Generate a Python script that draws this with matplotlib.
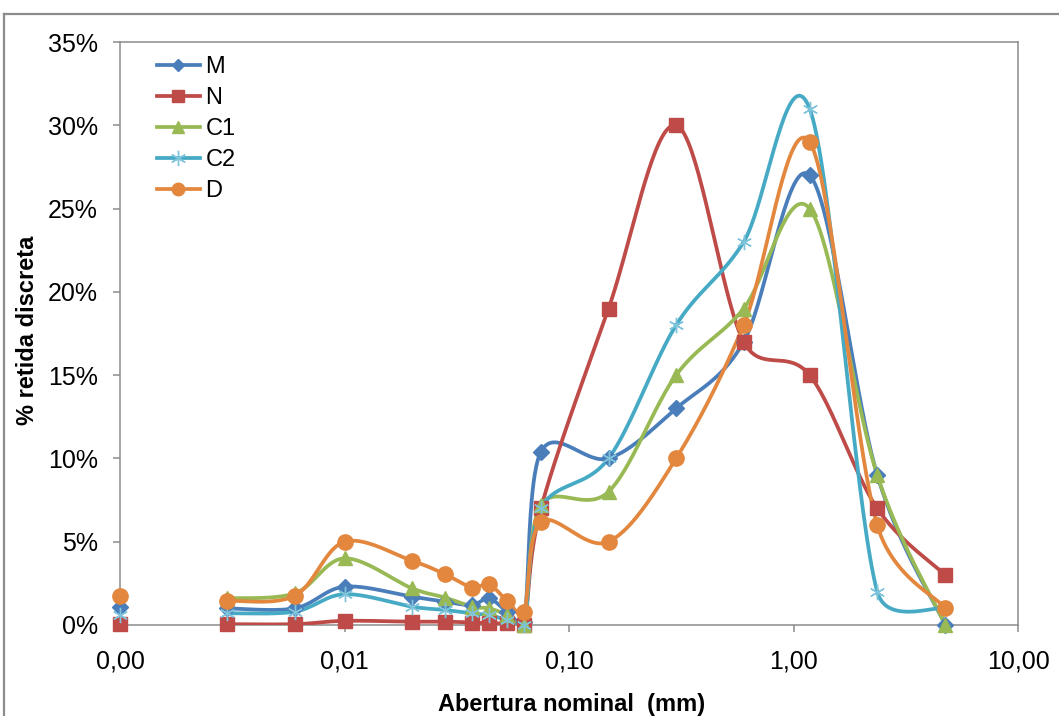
import numpy as np
import matplotlib
matplotlib.use('Agg')
import matplotlib.pyplot as plt
from matplotlib.lines import Line2D
from matplotlib.ticker import FixedLocator, FuncFormatter, NullLocator

plt.rcParams['font.family'] = ['Liberation Sans', 'DejaVu Sans']

# ─────────────────────────────────────────────────────────────
# DATA  (abertura em mm, % retida discreta)
# ─────────────────────────────────────────────────────────────
nan = np.nan
aberturas = [0.001, 0.003, 0.006, 0.01, 0.02, 0.028, 0.037, 0.044, 0.053, 0.063,
             0.075, 0.15, 0.3, 0.6, 1.18, 2.36, 4.75]

serie_M  = [1.1, 1.0, 1.0, 2.3, 1.7, 1.4, 1.2, 1.6, 0.8, 0.2, 10.4, 10.0, 13.0, 17.0, 27.0, 9.0, 0.0]
serie_N  = [0.05, 0.05, 0.05, 0.25, 0.2, 0.2, 0.15, 0.1, 0.1, 0.0, 7.0, 19.0, 30.0, 17.0, 15.0, 7.0, 3.0]
serie_C1 = [nan, 1.6, 1.9, 4.0, 2.2, 1.65, 1.1, 1.0, 0.6, 0.0, 7.2, 8.0, 15.0, 19.0, 25.0, 9.0, 0.0]
serie_C2 = [0.6, 0.7, 0.8, 1.85, 1.1, 0.9, 0.7, 0.6, 0.3, 0.0, 7.0, 10.0, 18.0, 23.0, 31.0, 2.0, 1.0]
serie_D  = [1.75, 1.45, 1.75, 5.0, 3.85, 3.05, 2.25, 2.45, 1.45, 0.8, 6.2, 5.0, 10.0, 18.0, 29.0, 6.0, 1.0]

nomes   = ["M", "N", "C1", "C2", "D"]
series  = [serie_M, serie_N, serie_C1, serie_C2, serie_D]
x_ticks = [0.001, 0.01, 0.1, 1, 10]
y_ticks = [0, 5, 10, 15, 20, 25, 30, 35]

cores    = ["#4A7EBB", "#BE4B48", "#98B954", "#46AAC5", "#E2873D"]
markers  = ["D", "s", "^", (6, 2, 0), "o"]
msizes   = [8, 10, 10, 11, 11]

W, H = 1059, 716
PX_DEC = (1018 - 120) / 4.0      # pixels per decade on x
PX_PCT = (625 - 42) / 35.0       # pixels per percent on y


# Excel-like smoothed line: bezier with arms of 1/6 of the chord,
# capped at half the segment length (computed in pixel space)
def smooth(xs, ys, n=40):
    pts = np.column_stack([np.log10(xs) * PX_DEC, np.asarray(ys) * PX_PCT])
    out = []
    for i in range(len(pts) - 1):
        p0 = pts[i - 1] if i > 0 else pts[i]
        p1, p2 = pts[i], pts[i + 1]
        p3 = pts[i + 2] if i + 2 < len(pts) else pts[i + 1]
        d12 = np.hypot(*(p2 - p1))
        a1 = (p2 - p0) / 6.0
        a2 = (p3 - p1) / 6.0
        for a in (a1, a2):
            la = np.hypot(*a)
            if la > d12 / 2 and la > 0:
                a *= (d12 / 2) / la
        c1 = p1 + a1
        c2 = p2 - a2
        t = np.linspace(0, 1, n)[:, None]
        seg = (1 - t) ** 3 * p1 + 3 * (1 - t) ** 2 * t * c1 + 3 * (1 - t) * t ** 2 * c2 + t ** 3 * p2
        out.append(seg if i == 0 else seg[1:])
    s = np.vstack(out)
    return 10 ** (s[:, 0] / PX_DEC), s[:, 1] / PX_PCT


# ─────────────────────────────────────────────────────────────
# PLOT
# ─────────────────────────────────────────────────────────────
fig = plt.figure(figsize=(W / 100, H / 100), dpi=100)
ax = fig.add_axes([120 / W, 1 - 625 / H, (1018 - 120) / W, (625 - 42) / H])

x_arr = np.array(aberturas)
for nome, ys, cor, mk, ms in zip(nomes, series, cores, markers, msizes):
    y_arr = np.array(ys, dtype=float)
    # line only over the continuous part (the first point is isolated)
    xs, yv = smooth(x_arr[1:], y_arr[1:])
    ax.plot(xs, yv, color=cor, linewidth=2.7, solid_capstyle='round', zorder=3)
    if mk == (6, 2, 0):
        ax.plot(x_arr, y_arr, linestyle='none', marker=mk, markersize=ms,
                markeredgecolor="#7FC4DA", markeredgewidth=1.0, clip_on=False, zorder=4)
    else:
        ax.plot(x_arr, y_arr, linestyle='none', marker=mk, markersize=ms,
                color=cor, markeredgecolor=cor, clip_on=False, zorder=4)

ax.set_xscale('log')
ax.set_xlim(0.001, 10)
ax.set_ylim(0, 35)
ax.xaxis.set_major_locator(FixedLocator(x_ticks))
ax.xaxis.set_minor_locator(NullLocator())
ax.xaxis.set_major_formatter(FuncFormatter(lambda v, p: f"{v:.2f}".replace(".", ",")))
ax.yaxis.set_major_locator(FixedLocator(y_ticks))
ax.yaxis.set_major_formatter(FuncFormatter(lambda v, p: f"{v:.0f}%"))

for sp in ax.spines.values():
    sp.set_color("#8C8C8C")
    sp.set_linewidth(1.1)
ax.tick_params(axis='both', colors="#8C8C8C", labelcolor="black", labelsize=18,
               length=5, width=1.1, direction='out')
ax.tick_params(axis='y', pad=11)
ax.tick_params(axis='x', pad=13)

fig.text(28 / W, 1 - 330 / H, "% retida discreta", rotation=90, fontsize=17,
         fontweight='bold', ha='center', va='center')
fig.text(572 / W, 1 - 704 / H, "Abertura nominal  (mm)", fontsize=17,
         fontweight='bold', ha='center', va='center')

handles = []
for nome, cor, mk, ms in zip(nomes, cores, markers, msizes):
    if mk == (6, 2, 0):
        h = Line2D([], [], color=cor, linewidth=2.7, marker=mk, markersize=ms,
                   markeredgecolor="#7FC4DA", markeredgewidth=1.0)
    else:
        h = Line2D([], [], color=cor, linewidth=2.7, marker=mk, markersize=ms - 2,
                   markeredgecolor=cor)
    handles.append(h)
fig.legend(handles, nomes, loc='upper left', bbox_to_anchor=(157 / W, 1 - 56 / H),
           frameon=False, fontsize=17, handlelength=1.8, handletextpad=0.25,
           labelspacing=0.38, borderaxespad=0, borderpad=0)

# outer chart frame
fig.add_artist(Line2D([4 / W, 1.0], [1 - 14 / H, 1 - 14 / H], color="#8C8C8C", linewidth=1.6))
fig.add_artist(Line2D([4 / W, 4 / W], [0.0, 1 - 14 / H], color="#8C8C8C", linewidth=1.6))

plt.savefig("out.png", dpi=100)
plt.close()
